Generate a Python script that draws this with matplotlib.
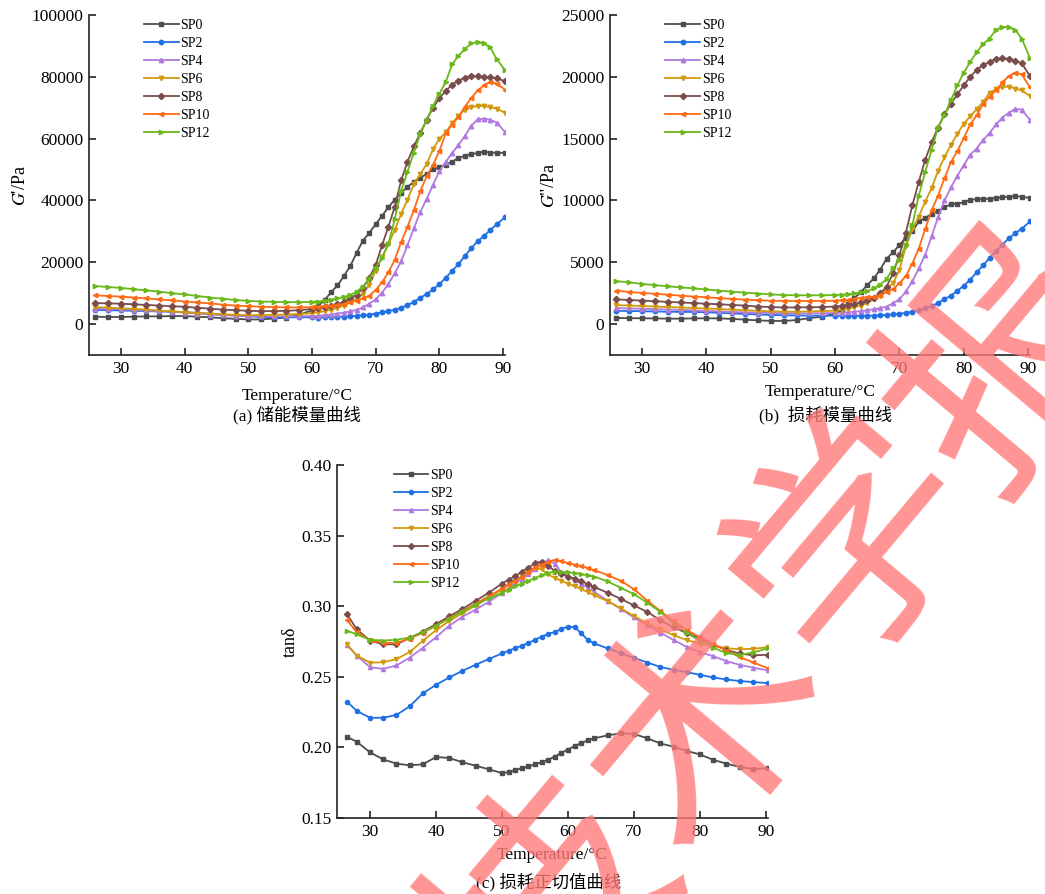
import numpy as np
import matplotlib
matplotlib.use("Agg")
import matplotlib.pyplot as plt
from matplotlib.ticker import FormatStrFormatter

plt.rcParams['font.family'] = ['Liberation Serif', 'Noto Sans CJK SC']
plt.rcParams['mathtext.fontset'] = 'stix'

labels = ['SP0', 'SP2', 'SP4', 'SP6', 'SP8', 'SP10', 'SP12']
colors = ['#4d4d4d', '#1f6fe5', '#b07ae0', '#d19a0e', '#7a4c4c', '#ff6a14', '#6ab81a']
markers = ['s', 'o', '^', 'v', 'D', '<', '>']

# temperature grids (degC)
T_ab = [26, 28, 30, 32, 34, 36, 38, 40, 42, 44, 46, 48, 50, 52, 54, 56, 58, 60,
        61, 62, 63, 64, 65, 66, 67, 68, 69, 70, 71, 72, 73, 74, 75, 76, 77, 78, 79, 80,
        81, 82, 83, 84, 85, 86, 87, 88, 89, 90.3]
T_c = [26.5, 28, 30, 32, 34, 36, 38, 40, 42, 44, 46, 48, 50,
       51, 52, 53, 54, 55, 56, 57, 58, 59, 60, 61, 62, 63, 64,
       66, 68, 70, 72, 74, 76, 78, 80, 82, 84, 86, 88, 90.3]

# (a) storage modulus G' / Pa
G1_SP0 = [2400, 2300, 2300, 2400, 2500, 2500, 2600, 2600, 2400, 2200, 1900, 1700, 1500, 1500, 1800, 2100, 3000, 4500,
          6100, 7800, 10300, 12500, 15500, 18700, 23000, 27000, 29500, 32300, 35000, 37800, 40300, 42500, 44400, 46000, 47400, 48500,
          50100, 50700, 51600, 52600, 53700, 54500, 55000, 55300, 55800, 55500, 55400, 55400]
G1_SP2 = [4600, 4500, 4400, 4300, 4200, 4100, 4000, 3900, 3600, 3300, 3000, 2800, 2500, 2300, 2200, 2200, 2200, 2200,
          2100, 2200, 2300, 2400, 2450, 2550, 2650, 2850, 3100, 3400, 3800, 4200, 4700, 5300, 6100, 7200, 8500, 9700,
          11200, 12900, 15000, 17200, 19400, 22000, 24500, 26800, 28500, 30400, 32300, 34500]
G1_SP4 = [5000, 4900, 4800, 4600, 4400, 4200, 4000, 3700, 3400, 3100, 2900, 2700, 2600, 2500, 2500, 2500, 2500, 2600,
          2700, 2900, 3100, 3400, 3700, 4100, 4600, 5400, 6600, 8000, 10200, 12900, 16500, 20300, 25500, 31000, 36200, 40500,
          45000, 49500, 52500, 55300, 58000, 60800, 64200, 66200, 66500, 66100, 65200, 62200]
G1_SP6 = [5500, 5300, 5100, 4900, 4700, 4400, 4100, 3900, 3600, 3400, 3200, 3000, 2900, 2900, 3000, 3100, 3300, 3500,
          3800, 4200, 4700, 5300, 6000, 7000, 8000, 9800, 12800, 17300, 21600, 25800, 30500, 35600, 40300, 45300, 48500, 51800,
          56500, 60000, 62000, 65000, 67300, 69400, 70200, 70500, 70600, 70200, 69700, 68400]
G1_SP8 = [6800, 6700, 6600, 6400, 6200, 6000, 5800, 5600, 5300, 5000, 4700, 4500, 4300, 4200, 4200, 4300, 4500, 4900,
          5200, 5500, 5900, 6400, 7200, 8300, 9500, 11700, 15000, 19100, 25500, 31500, 38000, 46500, 52500, 57500, 61800, 66000,
          70000, 73000, 75500, 77400, 78800, 79700, 80300, 80300, 80000, 79900, 79500, 78600]
G1_SP10 = [9300, 9100, 8900, 8600, 8300, 8000, 7700, 7300, 7000, 6700, 6300, 6000, 5800, 5600, 5500, 5400, 5400, 5500,
           5600, 5700, 5900, 6100, 6500, 7000, 7600, 8300, 9200, 11000, 13500, 16800, 20800, 26500, 31500, 36800, 43000, 47800,
           51500, 56000, 61700, 64500, 67000, 70300, 73100, 75600, 77200, 78400, 77800, 75900]
G1_SP12 = [12300, 12000, 11700, 11300, 10900, 10500, 10000, 9600, 9100, 8600, 8200, 7800, 7500, 7300, 7200, 7100, 7100, 7200,
           7300, 7600, 7900, 8300, 8800, 9400, 10500, 12100, 14600, 18000, 21500, 26000, 34000, 43000, 49300, 55500, 61500, 66000,
           70500, 74500, 78300, 84000, 86800, 89000, 90800, 91300, 90800, 89500, 85700, 82200]

# (b) loss modulus G'' / Pa
G2_SP0 = [500, 480, 470, 460, 440, 440, 460, 470, 460, 420, 360, 300, 260, 250, 330, 480, 600, 850,
          1100, 1600, 2100, 2600, 3150, 3700, 4400, 5300, 5800, 6400, 7000, 7500, 8300, 8600, 8900, 9150, 9450, 9700,
          9750, 9850, 10050, 10100, 10100, 10150, 10200, 10250, 10300, 10350, 10300, 10200]
G2_SP2 = [1080, 1060, 1040, 1020, 1000, 990, 980, 960, 920, 870, 820, 780, 740, 720, 700, 690, 680, 680,
          680, 680, 680, 680, 680, 690, 710, 740, 780, 830, 910, 1000, 1110, 1280, 1460, 1700, 2030, 2300,
          2700, 3100, 3600, 4180, 4750, 5350, 5880, 6420, 6950, 7350, 7720, 8300]
G2_SP4 = [1300, 1270, 1240, 1210, 1180, 1150, 1110, 1070, 1030, 990, 950, 920, 900, 880, 870, 870, 880, 900,
          920, 950, 1000, 1050, 1120, 1200, 1290, 1420, 1700, 2000, 2650, 3450, 4500, 5600, 7100, 8650, 10000, 11050,
          12000, 12850, 13700, 14200, 14900, 15450, 16150, 16700, 17100, 17400, 17350, 16500]
G2_SP6 = [1540, 1500, 1460, 1420, 1380, 1340, 1300, 1260, 1220, 1170, 1120, 1070, 1030, 1000, 1000, 1020, 1050, 1090,
          1150, 1250, 1380, 1500, 1700, 2000, 2300, 2850, 3300, 4400, 6300, 7700, 8700, 9900, 11000, 12400, 13500, 14500,
          15400, 16200, 16800, 17400, 17950, 18700, 19000, 19200, 19200, 19050, 18900, 18450]
G2_SP8 = [2000, 1950, 1900, 1850, 1800, 1750, 1700, 1650, 1600, 1550, 1500, 1420, 1380, 1350, 1350, 1360, 1380, 1420,
          1480, 1550, 1620, 1750, 1950, 2150, 2500, 3020, 4100, 5600, 7400, 9600, 11500, 13300, 14700, 15900, 17000, 17800,
          18600, 19300, 20000, 20550, 20950, 21200, 21450, 21500, 21450, 21300, 21100, 20050]
G2_SP10 = [2700, 2600, 2520, 2450, 2380, 2300, 2230, 2170, 2100, 2040, 1980, 1930, 1890, 1880, 1870, 1870, 1880, 1890,
           1920, 1960, 2050, 2100, 2170, 2200, 2330, 2600, 2850, 3300, 3900, 4900, 6100, 7700, 9200, 10400, 11800, 13100,
           14000, 15050, 16150, 16900, 17800, 18400, 18900, 19550, 20050, 20350, 20200, 19150]
G2_SP12 = [3480, 3370, 3250, 3150, 3060, 2970, 2890, 2800, 2700, 2620, 2540, 2470, 2400, 2350, 2330, 2330, 2330, 2350,
           2380, 2420, 2480, 2560, 2650, 2900, 3200, 3650, 4500, 5200, 6400, 8000, 10400, 12300, 14100, 15900, 16900, 18100,
           19300, 20350, 21200, 22000, 22650, 23100, 23800, 24050, 24000, 23800, 23100, 21500]

# (c) loss tangent tan(delta)
TD_SP0 = [0.2075, 0.2040, 0.1965, 0.1915, 0.1885, 0.1873, 0.1880, 0.1932, 0.1925, 0.1895, 0.1870, 0.1845, 0.1818,
          0.1825, 0.1840, 0.1852, 0.1865, 0.1880, 0.1895, 0.1912, 0.1935, 0.1962, 0.1985, 0.2010, 0.2030, 0.2050, 0.2065,
          0.2085, 0.2100, 0.2095, 0.2065, 0.2028, 0.2005, 0.1975, 0.1950, 0.1912, 0.1885, 0.1862, 0.1847, 0.1852]
TD_SP2 = [0.2325, 0.2258, 0.2210, 0.2210, 0.2230, 0.2290, 0.2383, 0.2443, 0.2495, 0.2542, 0.2585, 0.2626, 0.2665,
          0.2685, 0.2703, 0.2720, 0.2740, 0.2762, 0.2785, 0.2803, 0.2818, 0.2838, 0.2856, 0.2852, 0.2808, 0.2760, 0.2736,
          0.2701, 0.2667, 0.2634, 0.2601, 0.2570, 0.2549, 0.2533, 0.2514, 0.2495, 0.2481, 0.2470, 0.2463, 0.2455]
TD_SP4 = [0.2725, 0.2650, 0.2568, 0.2556, 0.2580, 0.2635, 0.2705, 0.2780, 0.2862, 0.2925, 0.2976, 0.3031, 0.3094,
          0.3128, 0.3162, 0.3194, 0.3226, 0.3260, 0.3300, 0.3328, 0.3300, 0.3240, 0.3213, 0.3185, 0.3160, 0.3130, 0.3100,
          0.3039, 0.2980, 0.2920, 0.2866, 0.2813, 0.2760, 0.2712, 0.2674, 0.2646, 0.2611, 0.2585, 0.2565, 0.2545]
TD_SP6 = [0.2730, 0.2650, 0.2600, 0.2603, 0.2625, 0.2675, 0.2755, 0.2830, 0.2895, 0.2950, 0.3005, 0.3060, 0.3120,
          0.3150, 0.3180, 0.3210, 0.3240, 0.3270, 0.3260, 0.3225, 0.3200, 0.3180, 0.3160, 0.3140, 0.3122, 0.3100, 0.3078,
          0.3035, 0.2985, 0.2930, 0.2878, 0.2835, 0.2795, 0.2760, 0.2735, 0.2718, 0.2703, 0.2695, 0.2698, 0.2710]
TD_SP8 = [0.2945, 0.2835, 0.2757, 0.2730, 0.2730, 0.2774, 0.2820, 0.2873, 0.2928, 0.2980, 0.3038, 0.3095, 0.3160,
          0.3188, 0.3213, 0.3243, 0.3272, 0.3305, 0.3316, 0.3285, 0.3250, 0.3225, 0.3210, 0.3195, 0.3178, 0.3155, 0.3135,
          0.3095, 0.3052, 0.3005, 0.2960, 0.2900, 0.2850, 0.2810, 0.2770, 0.2728, 0.2690, 0.2665, 0.2652, 0.2656]
TD_SP10 = [0.2903, 0.2814, 0.2760, 0.2740, 0.2740, 0.2770, 0.2812, 0.2862, 0.2915, 0.2965, 0.3018, 0.3070, 0.3125,
           0.3155, 0.3180, 0.3210, 0.3245, 0.3275, 0.3295, 0.3315, 0.3328, 0.3320, 0.3305, 0.3295, 0.3285, 0.3270, 0.3255,
           0.3220, 0.3180, 0.3120, 0.3040, 0.2965, 0.2895, 0.2830, 0.2780, 0.2732, 0.2685, 0.2640, 0.2603, 0.2560]
TD_SP12 = [0.2827, 0.2800, 0.2762, 0.2757, 0.2762, 0.2778, 0.2815, 0.2862, 0.2912, 0.2962, 0.3010, 0.3055, 0.3095,
           0.3118, 0.3140, 0.3160, 0.3180, 0.3200, 0.3220, 0.3235, 0.3245, 0.3245, 0.3240, 0.3235, 0.3228, 0.3218, 0.3210,
           0.3175, 0.3130, 0.3085, 0.3025, 0.2960, 0.2880, 0.2810, 0.2755, 0.2705, 0.2668, 0.2655, 0.2672, 0.2702]

G1 = [G1_SP0, G1_SP2, G1_SP4, G1_SP6, G1_SP8, G1_SP10, G1_SP12]
G2 = [G2_SP0, G2_SP2, G2_SP4, G2_SP6, G2_SP8, G2_SP10, G2_SP12]
TD = [TD_SP0, TD_SP2, TD_SP4, TD_SP6, TD_SP8, TD_SP10, TD_SP12]

fig = plt.figure(figsize=(10.45, 8.94), dpi=100)
ax_a = fig.add_axes([0.0852, 0.6029, 0.398, 0.3803])
ax_b = fig.add_axes([0.5837, 0.6029, 0.402, 0.3803])
ax_c = fig.add_axes([0.3225, 0.0850, 0.4124, 0.3949])


def draw(ax, T, series, ms=3.2):
    for y, lab, c, m in zip(series, labels, colors, markers):
        ax.plot(T, y, color=c, marker=m, ms=ms, mec=c, mfc=c, lw=1.3, label=lab)


def style(ax, ylim, yticks, ylabel, xlabelpad):
    for s in ['top', 'right']:
        ax.spines[s].set_visible(False)
    for s in ['left', 'bottom']:
        ax.spines[s].set_linewidth(1.2)
        ax.spines[s].set_color('#222222')
    ax.set_xlim(25, 90.3)
    ax.set_ylim(*ylim)
    ax.set_xticks([30, 40, 50, 60, 70, 80, 90])
    ax.set_yticks(yticks)
    ax.tick_params(direction='in', length=5, width=1.2, labelsize=12.5, pad=4, color='#222222')
    ax.set_xlabel('Temperature/°C', fontsize=12.5, labelpad=xlabelpad)
    ax.set_ylabel(ylabel, fontsize=13, labelpad=2)
    ax.legend(loc='upper left', bbox_to_anchor=(0.115, 1.008), frameon=False, fontsize=10,
              handlelength=2.5, handletextpad=0.15, labelspacing=0.36, borderpad=0)


draw(ax_a, T_ab, G1)
style(ax_a, (-10000, 100000), np.arange(0, 100001, 20000), r"$G$'/Pa", 8)

draw(ax_b, T_ab, G2)
style(ax_b, (-2500, 25000), np.arange(0, 25001, 5000), r'$G$"/Pa', 5)

draw(ax_c, T_c, TD, ms=3.0)
style(ax_c, (0.15, 0.40), [0.15, 0.20, 0.25, 0.30, 0.35, 0.40], 'tanδ', 5)
ax_c.yaxis.set_major_formatter(FormatStrFormatter('%.2f'))

fig.text(0.284, 0.536, '(a) 储能模量曲线', ha='center', va='center', fontsize=12.5)
fig.text(0.790, 0.536, '(b)  损耗模量曲线', ha='center', va='center', fontsize=12.5)
fig.text(0.525, 0.013, '(c) 损耗正切值曲线', ha='center', va='center', fontsize=12.5)

# pink watermark
fig.text(0.75, 0.29, '技术学报', rotation=50, ha='center', va='center', fontsize=170,
         color='#ff7a7a', alpha=0.8, family='Noto Sans CJK SC', zorder=10)

fig.savefig('out.png', dpi=100)
